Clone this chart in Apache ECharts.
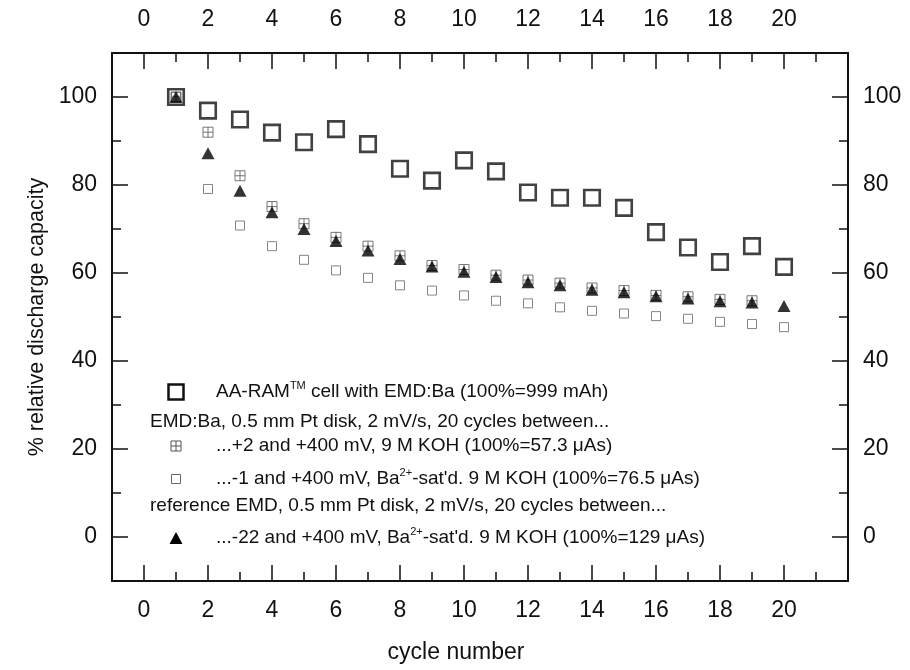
<!DOCTYPE html>
<html>
<head>
<meta charset="utf-8">
<script src="https://cdn.jsdelivr.net/npm/echarts@6/dist/echarts.min.js"></script>
<style>
html,body{margin:0;padding:0;background:#fff;}
#chart{width:910px;height:670px;}
</style>
</head>
<body>
<div id="chart"></div>
<script>
// ---- data ----
const cycles = [1,2,3,4,5,6,7,8,9,10,11,12,13,14,15,16,17,18,19,20];
const aaRamCell = [100, 96.9, 94.9, 91.9, 89.7, 92.7, 89.3, 83.7, 81.0, 85.6, 83.1, 78.3, 77.1, 77.1, 74.8, 69.3, 65.8, 62.5, 66.1, 61.4];
const emdBaKoh = [100, 92.0, 82.1, 75.1, 71.2, 68.1, 66.1, 63.9, 61.7, 60.8, 59.5, 58.4, 57.7, 56.6, 56.0, 54.9, 54.6, 54.0, 53.7, null];
const emdBaSat = [100, 79.1, 70.8, 66.1, 63.0, 60.6, 58.9, 57.2, 56.0, 54.9, 53.7, 53.1, 52.2, 51.4, 50.8, 50.2, 49.6, 48.9, 48.4, 47.7];
const refEmd = [100, 87.2, 78.7, 73.8, 70.0, 67.3, 65.1, 63.2, 61.5, 60.3, 59.1, 57.9, 57.2, 56.2, 55.6, 54.7, 54.2, 53.6, 53.3, 52.5];
const xMajorTicks = [0,2,4,6,8,10,12,14,16,18,20];
const xMinorTicks = [1,3,5,7,9,11,13,15,17,19,21];
const yMajorTicks = [0,20,40,60,80,100];
const yMinorTicks = [10,30,50,70,90];
const xName = 'cycle number';
const yName = '% relative discharge capacity';
const legendTexts = [
  'AA-RAM{sup|TM} cell with EMD:Ba (100%=999 mAh)',
  'EMD:Ba, 0.5 mm Pt disk, 2 mV/s, 20 cycles between...',
  '...+2 and +400 mV, 9 M KOH (100%=57.3 μAs)',
  '...-1 and +400 mV, Ba{sup|2+}-sat\'d. 9 M KOH (100%=76.5 μAs)',
  'reference EMD, 0.5 mm Pt disk, 2 mV/s, 20 cycles between...',
  '...-22 and +400 mV, Ba{sup|2+}-sat\'d. 9 M KOH (100%=129 μAs)'
];

const pairs = arr => cycles.map((c,i) => [c, arr[i]]);
const FONT = 'Liberation Sans, Arial, sans-serif';
const INK = '#111';
const crossPath = 'path://M0,0H10V10H0Z M5,0V10 M0,5H10';

function xAx(pos, values, len, withLine, withLabel, extra, margin) {
  return Object.assign({
    type: 'value', min: -1, max: 22, position: pos, gridIndex: 0,
    axisLine: {show: withLine, onZero: false, lineStyle: {color: INK, width: 2}},
    axisTick: {show: true, inside: true, length: len, customValues: values, lineStyle: {color: INK, width: 1.5}},
    axisLabel: withLabel ? {show: true, customValues: values, fontSize: 23, fontFamily: FONT, color: INK, margin: margin || 18} : {show: false},
    splitLine: {show: false}
  }, extra || {});
}
function yAx(pos, values, len, withLine, withLabel, extra) {
  return Object.assign({
    type: 'value', min: -10, max: 110, position: pos, gridIndex: 0,
    axisLine: {show: withLine, onZero: false, lineStyle: {color: INK, width: 2}},
    axisTick: {show: true, inside: true, length: len, customValues: values, lineStyle: {color: INK, width: 1.5}},
    axisLabel: withLabel ? {show: true, customValues: values, fontSize: 23, fontFamily: FONT, color: INK, margin: 15} : {show: false},
    splitLine: {show: false}
  }, extra || {});
}

const chart = echarts.init(document.getElementById('chart'), null, {renderer: 'canvas'});

const legendX = 176, textX = 216, headX = 150;
const legendRows = [392, 422, 446, 479, 506, 538];
const richSup = {sup: {fontSize: 11, lineHeight: 11, verticalAlign: 'top', fontFamily: FONT, fill: INK}};
function legText(x, y, t) {
  return {type: 'text', x: x, y: y, z: 100, style: {text: t, rich: richSup, fontSize: 19, lineHeight: 24, fontFamily: FONT, fill: INK, verticalAlign: 'middle', align: 'left'}};
}
const cy = legendRows[2];

const option = {
  backgroundColor: '#fff',
  animation: false,
  grid: {left: 112, right: 62, top: 53, bottom: 89, containLabel: false},
  xAxis: [
    xAx('bottom', xMajorTicks, 16, true, true, {name: xName, nameLocation: 'middle', nameGap: 60, nameTextStyle: {fontSize: 23, fontFamily: FONT, color: INK, padding: [0, 48, 0, 0]}}),
    xAx('bottom', xMinorTicks, 9, false, false),
    xAx('top', xMajorTicks, 16, true, true, null, 22),
    xAx('top', xMinorTicks, 9, false, false)
  ],
  yAxis: [
    yAx('left', yMajorTicks, 16, true, true, {name: yName, nameLocation: 'middle', nameGap: 62, nameTextStyle: {fontSize: 21.5, fontFamily: FONT, color: INK}}),
    yAx('left', yMinorTicks, 9, false, false),
    yAx('right', yMajorTicks, 16, true, true),
    yAx('right', yMinorTicks, 9, false, false)
  ],
  series: [
    {name: 'AA-RAM cell', type: 'scatter', data: pairs(aaRamCell), symbol: 'rect', symbolSize: 15.5,
     itemStyle: {color: 'rgba(0,0,0,0)', borderColor: INK, borderWidth: 2.6}, z: 2},
    {name: 'EMD:Ba -1..+400 mV', type: 'scatter', data: pairs(emdBaSat), symbol: 'rect', symbolSize: 9,
     itemStyle: {color: 'rgba(0,0,0,0)', borderColor: '#666', borderWidth: 1}, z: 3},
    {name: 'EMD:Ba +2..+400 mV', type: 'scatter', data: pairs(emdBaKoh), symbol: crossPath, symbolSize: 10,
     itemStyle: {color: 'rgba(0,0,0,0)', borderColor: '#555', borderWidth: 1}, z: 4},
    {name: 'reference EMD', type: 'scatter', data: pairs(refEmd), symbol: 'triangle', symbolSize: [13, 12],
     itemStyle: {color: '#000'}, z: 5}
  ],
  graphic: [
    {type: 'rect', z: 100, shape: {x: legendX - 7.5, y: legendRows[0] - 7.5, width: 15, height: 15}, style: {fill: 'none', stroke: INK, lineWidth: 2.5}},
    legText(textX, legendRows[0], legendTexts[0]),
    legText(headX, legendRows[1], legendTexts[1]),
    {type: 'rect', z: 100, shape: {x: legendX - 5, y: cy - 5, width: 10, height: 10}, style: {fill: 'none', stroke: '#555', lineWidth: 1}},
    {type: 'line', z: 100, shape: {x1: legendX, y1: cy - 5, x2: legendX, y2: cy + 5}, style: {stroke: '#555', lineWidth: 1}},
    {type: 'line', z: 100, shape: {x1: legendX - 5, y1: cy, x2: legendX + 5, y2: cy}, style: {stroke: '#555', lineWidth: 1}},
    legText(textX, legendRows[2], legendTexts[2]),
    {type: 'rect', z: 100, shape: {x: legendX - 4.5, y: legendRows[3] - 4.5, width: 9, height: 9}, style: {fill: 'none', stroke: '#666', lineWidth: 1}},
    legText(textX, legendRows[3], legendTexts[3]),
    legText(headX, legendRows[4], legendTexts[4]),
    {type: 'polygon', z: 100, shape: {points: [[legendX, legendRows[5] - 6], [legendX + 6.5, legendRows[5] + 6], [legendX - 6.5, legendRows[5] + 6]]}, style: {fill: '#000'}},
    legText(textX, legendRows[5], legendTexts[5])
  ]
};
chart.setOption(option);
</script>
</body>
</html>
